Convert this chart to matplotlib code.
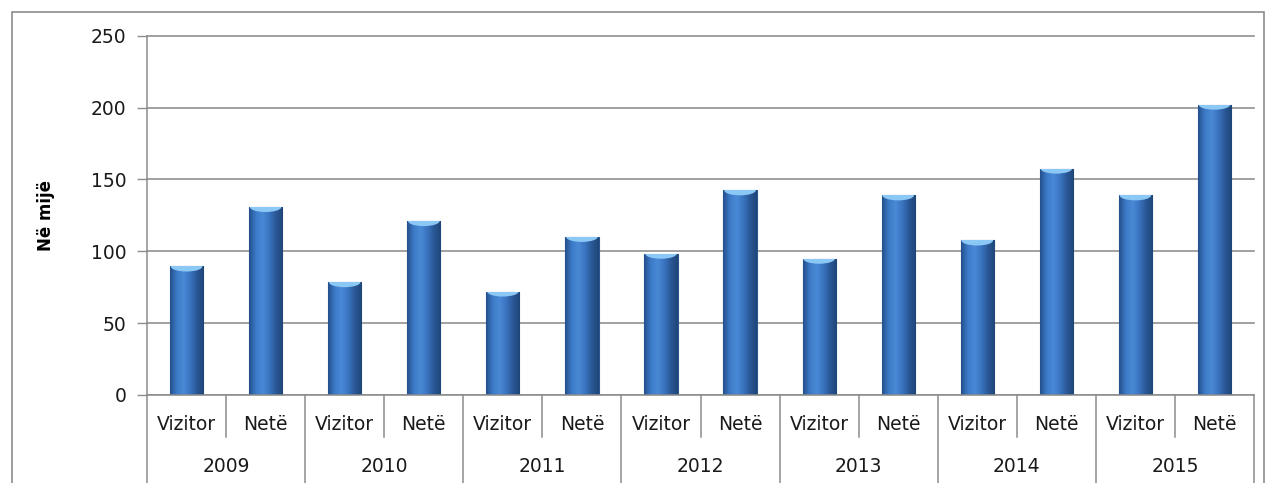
import matplotlib
matplotlib.use("Agg")
import matplotlib.pyplot as plt
import numpy as np
from matplotlib.patches import Rectangle, Ellipse
from matplotlib.colors import LinearSegmentedColormap

years = ["2009", "2010", "2011", "2012", "2013", "2014", "2015"]
sub_labels = ["Vizitor", "Netë"]
vizitor = [89.4, 78.5, 72, 98.3, 94.8, 107.5, 138.9]
nete = [130.8, 121, 110, 142.4, 138.9, 157.5, 202]
y_ticks = [0, 50, 100, 150, 200, 250]
y_label = "Në mijë"

values = []
labels = []
for v, n in zip(vizitor, nete):
    values += [v, n]
    labels += sub_labels

fig = plt.figure(figsize=(12.74, 4.83), dpi=100)
ax = fig.add_axes([0.1154, 0.1822, 0.8689, 0.744])

# outer frame
fig.patches.append(Rectangle((12/1274, -0.05), (1264-12)/1274, 1.05 - 12/483,
                             transform=fig.transFigure, fill=False,
                             edgecolor="#8c8c8c", linewidth=1.2, zorder=0))

x = np.arange(len(values))
width = 0.42
bars = ax.bar(x, values, width=width, color="#3a73be", edgecolor="#2b5690",
              linewidth=0.8, zorder=3)

cmap = LinearSegmentedColormap.from_list(
    "bg", ["#24508c", "#3d7bc9", "#4a89d6", "#3a74c0", "#2a5795", "#1f4678"])
grad = np.linspace(0, 1, 64).reshape(1, -1)
for b in bars:
    bx, bw, bh = b.get_x(), b.get_width(), b.get_height()
    im = ax.imshow(grad, cmap=cmap, extent=(bx, bx + bw, 0, bh),
                   aspect="auto", zorder=3.5, interpolation="bicubic")
    im.set_clip_path(b)
    cap = Ellipse((bx + bw / 2, bh), bw * 0.95, 7, facecolor="#8cc8f5",
                  edgecolor="none", zorder=3.6)
    ax.add_patch(cap)
    cap.set_clip_path(b)

ax.set_xlim(-0.5, len(values) - 0.5)
ax.set_ylim(0, 250)
ax.set_yticks(y_ticks)
ax.set_yticklabels([str(t) for t in y_ticks], fontsize=13.5, color="#1a1a1a")
ax.tick_params(axis="y", length=7, width=1, color="#8c8c8c", pad=8)
ax.yaxis.grid(True, color="#868686", linewidth=1.1, zorder=0)
for gl in ax.get_ygridlines():
    gl.set_clip_on(False)
ax.set_axisbelow(True)
for s in ["top", "right", "bottom"]:
    ax.spines[s].set_visible(False)
ax.spines["left"].set_color("#8c8c8c")
ax.spines["left"].set_linewidth(1.1)
ax.set_xticks([])
ax.set_ylabel(y_label, fontsize=12, fontweight="bold")
ax.yaxis.set_label_coords((55 / 1274 - 0.1154) / 0.8689, 0.5)

# multi-level category axis
trans = ax.get_xaxis_transform()
px = 1 / (ax.get_position().height * 483)
ax.axhline(0, color="#8c8c8c", linewidth=1.1, zorder=4)
for i, lab in enumerate(labels):
    ax.text(i, -30 * px, lab, transform=trans, ha="center", va="center",
            fontsize=13.5, color="#1a1a1a", clip_on=False)
for g, yr in enumerate(years):
    ax.text(2 * g + 0.5, -72 * px, yr, transform=trans, ha="center",
            va="center", fontsize=13.5, color="#1a1a1a", clip_on=False)
for k in range(len(values) + 1):
    xs = k - 0.5
    if k % 2 == 0:
        y0 = -100 * px
    else:
        y0 = -42 * px
    ax.plot([xs, xs], [0, y0], transform=trans, color="#8c8c8c",
            linewidth=1.1, clip_on=False, zorder=4)

fig.savefig("out.png", dpi=100)
